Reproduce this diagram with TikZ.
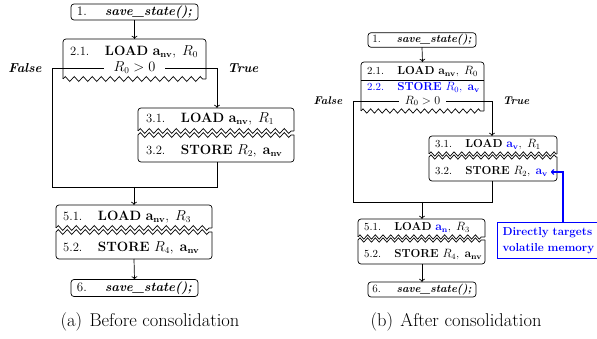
\documentclass[tikz,border=0pt]{standalone}
\usetikzlibrary{decorations.pathmorphing, arrows.meta, calc}
\newcommand\fntA{\fontsize{13.5}{16}\selectfont}
\newcommand\fntB{\fontsize{11.6}{13.8}\selectfont}
\newcommand\fntAb{\fontsize{13}{15.5}\selectfont}
\newcommand\fntBb{\fontsize{11.2}{13.4}\selectfont}
\newcommand\numA[1]{{\fontsize{12.6}{15}\selectfont #1}\hspace{1.15em}}
\newcommand\numB[1]{{\fontsize{10.8}{13}\selectfont #1}\hspace{1.15em}}
\newcommand\cmsp{,\hspace{0.45em}}
\newcommand\tornTop[2]{%
  \draw[boxline, rounded corners=3pt] (#1.south west) -- (#1.north west) -- (#1.north east) -- (#1.south east);
  \draw[boxline, #2] (#1.south west) -- (#1.south east);}
\newcommand\tornBot[2]{%
  \draw[boxline, rounded corners=3pt] (#1.north west) -- (#1.south west) -- (#1.south east) -- (#1.north east);
  \draw[boxline, #2] (#1.north west) -- (#1.north east);}
\tikzset{
  boxline/.style={line width=0.7pt},
  zzA/.style={decorate, decoration={zigzag, amplitude=2.5pt, segment length=9pt}},
  zzB/.style={decorate, decoration={zigzag, amplitude=2.2pt, segment length=7.7pt}},
  region/.style={inner sep=0pt, outer sep=0pt, draw=none},
  pbox/.style={draw, line width=0.7pt, rounded corners=3pt, inner sep=0pt, outer sep=0pt},
  txtA/.style={anchor=west, inner sep=0pt, font=\fntA, text height=9pt, text depth=2.7pt},
  txtB/.style={anchor=west, inner sep=0pt, font=\fntB, text height=7.8pt, text depth=2.3pt},
  condA/.style={font=\fntA, inner xsep=10pt, inner ysep=0pt, outer sep=0pt},
  condB/.style={font=\fntB, inner xsep=6pt, inner ysep=0pt, outer sep=0pt},
  conn/.style={line width=0.7pt},
  arr/.style={conn, -{To[length=3.2pt, width=5.8pt]}},
  lblA/.style={font=\fntAb\bfseries\itshape, inner sep=0pt},
  lblB/.style={font=\fntBb\bfseries\itshape, inner sep=0pt},
  captext/.style={font=\fontsize{18.5}{22}\selectfont, inner sep=0pt},
  notebox/.style={draw=blue, line width=1pt, text=blue, align=left, inner xsep=5pt, inner ysep=0pt,
    font=\fontsize{11.6}{15.5}\selectfont\bfseries, anchor=north west,
    minimum width=106pt, minimum height=36pt, text width=96pt},
  bluearr/.style={blue, line width=1.2pt, -{To[length=3.2pt, width=5.8pt]}},
}
\begin{document}
\begin{tikzpicture}[x=1pt, y=-1pt]
\useasboundingbox (0,0) rectangle (597,339);

% ---------------- (a) ----------------
\node[pbox, minimum width=127pt, minimum height=16pt] (A1) at (134.5,12)
  {\fntAb 1.\hspace{1.4em}\textbf{\textit{save\_state();}}};

\node[region, minimum width=143pt, minimum height=40pt] (A2) at (134.5,59) {};
\tornTop{A2}{zzA}
\node[txtA] (A2t) at (70,52) {\numA{2.1.}\textbf{LOAD} $\mathbf{a_{nv}}$\cmsp$R_0$};
\node[condA] (A2c) at (134.5,68) {$R_0>0$};

\node[region, minimum width=156pt, minimum height=23pt] (A31) at (216,119.5) {};
\tornTop{A31}{zzA}
\node[txtA] (A31t) at (146,119) {\numA{3.1.}\textbf{LOAD} $\mathbf{a_{nv}}$\cmsp$R_1$};
\node[region, minimum width=156pt, minimum height=27pt] (A32) at (216,148.5) {};
\tornBot{A32}{zzA}
\node[txtA] (A32t) at (146,151) {\numA{3.2.}\textbf{STORE} $R_2$\cmsp$\mathbf{a_{nv}}$};

\node[region, minimum width=156pt, minimum height=23pt] (A51) at (134,216.5) {};
\tornTop{A51}{zzA}
\node[txtA] (A51t) at (63,217) {\numA{5.1.}\textbf{LOAD} $\mathbf{a_{nv}}$\cmsp$R_3$};
\node[region, minimum width=156pt, minimum height=27pt] (A52) at (134,245.5) {};
\tornBot{A52}{zzA}
\node[txtA] (A52t) at (63,248) {\numA{5.2.}\textbf{STORE} $R_4$\cmsp$\mathbf{a_{nv}}$};

\node[pbox, minimum width=127pt, minimum height=17pt] (A6) at (134.5,288)
  {\fntAb 6.\hspace{1.4em}\textbf{\textit{save\_state();}}};

\node[lblA] (AF) at (25,68) {False};
\node[lblA] (AT) at (243,68) {True};

\coordinate (AfL) at (52,68);
\coordinate (AfR) at (217,68);
\coordinate (AmL) at (52,187);
\coordinate (AmR) at (217,187);
\coordinate (Am) at (134,187);

\draw[arr] (A1.south) -- (A2.north);
\draw[conn] (A2c.west) -- (AfL) -- (AmL) -- (AmR) -- (A32.south -| AmR);
\draw[arr] (A2c.east) -- (AfR) -- (A31.north -| AfR);
\draw[arr] (Am) -- (A51.north);
\draw[arr] (A52.south) -- (A6.north);

\node[captext] (capA) at (150,322) {(a)\hspace{0.4em}Before consolidation};

% ---------------- (b) ----------------
\node[pbox, minimum width=108pt, minimum height=14.5pt] (B1) at (422,40)
  {\fntBb 1.\hspace{1.4em}\textbf{\textit{save\_state();}}};

\node[region, minimum width=123pt, minimum height=49pt] (B2) at (422.5,86.5) {};
\tornTop{B2}{zzB}
\coordinate (Bsep) at (422,80);
\draw[boxline] (Bsep -| B2.west) -- (Bsep -| B2.east);
\node[txtB] (B21t) at (367,72) {\numB{2.1.}\textbf{LOAD} $\mathbf{a_{nv}}$\cmsp$R_0$};
\node[txtB, text=blue] (B22t) at (367,88) {\numB{2.2.}\textbf{STORE} $R_0$\cmsp$\mathbf{a_{v}}$};
\node[condB] (B2c) at (422.5,101) {$R_0>0$};

\node[region, minimum width=128pt, minimum height=18pt] (B31) at (493,145) {};
\tornTop{B31}{zzB}
\node[txtB] (B31t) at (435,145) {\numB{3.1.}\textbf{LOAD} \textcolor{blue}{$\mathbf{a_{v}}$}\cmsp$R_1$};
\node[region, minimum width=128pt, minimum height=24pt] (B32) at (493,169) {};
\tornBot{B32}{zzB}
\node[txtB] (B32t) at (435,172) {\numB{3.2.}\textbf{STORE} $R_2$\cmsp\textcolor{blue}{$\mathbf{a_{v}}$}};

\node[region, minimum width=127pt, minimum height=18pt] (B51) at (421.5,228) {};
\tornTop{B51}{zzB}
\node[txtB] (B51t) at (364,228) {\numB{5.1.}\textbf{LOAD} \textcolor{blue}{$\mathbf{a_{n}}$}\cmsp$R_3$};
\node[region, minimum width=127pt, minimum height=24pt] (B52) at (421.5,252) {};
\tornBot{B52}{zzB}
\node[txtB] (B52t) at (364,255) {\numB{5.2.}\textbf{STORE} $R_4$\cmsp$\mathbf{a_{nv}}$};

\node[pbox, minimum width=108pt, minimum height=15pt] (B6) at (422,289.5)
  {\fntBb 6.\hspace{1.4em}\textbf{\textit{save\_state();}}};

\node[lblB] (BF) at (328,101) {False};
\node[lblB] (BT) at (516,101) {True};

\coordinate (BfL) at (353,101);
\coordinate (BfR) at (492,101);
\coordinate (BmL) at (353,202);
\coordinate (BmR) at (492,202);
\coordinate (Bm) at (422,202);

\draw[arr] (B1.south) -- (B2.north);
\draw[conn] (B2c.west) -- (BfL) -- (BmL) -- (BmR) -- (B32.south -| BmR);
\draw[arr] (B2c.east) -- (BfR) -- (B31.north -| BfR);
\draw[arr] (Bm) -- (B51.north -| Bm);
\draw[arr] (B52.south -| Bm) -- (B6.north -| Bm);

\node[notebox] (N) at (497,222) {Directly targets\\volatile memory};
\coordinate (Bav) at (551,172);
\coordinate (Bup) at (563,172);
\draw[bluearr] (N.north -| Bup) -- (Bup) -- (Bav);

\node[captext] (capB) at (456,322) {(b)\hspace{0.4em}After consolidation};
\end{tikzpicture}
\end{document}
